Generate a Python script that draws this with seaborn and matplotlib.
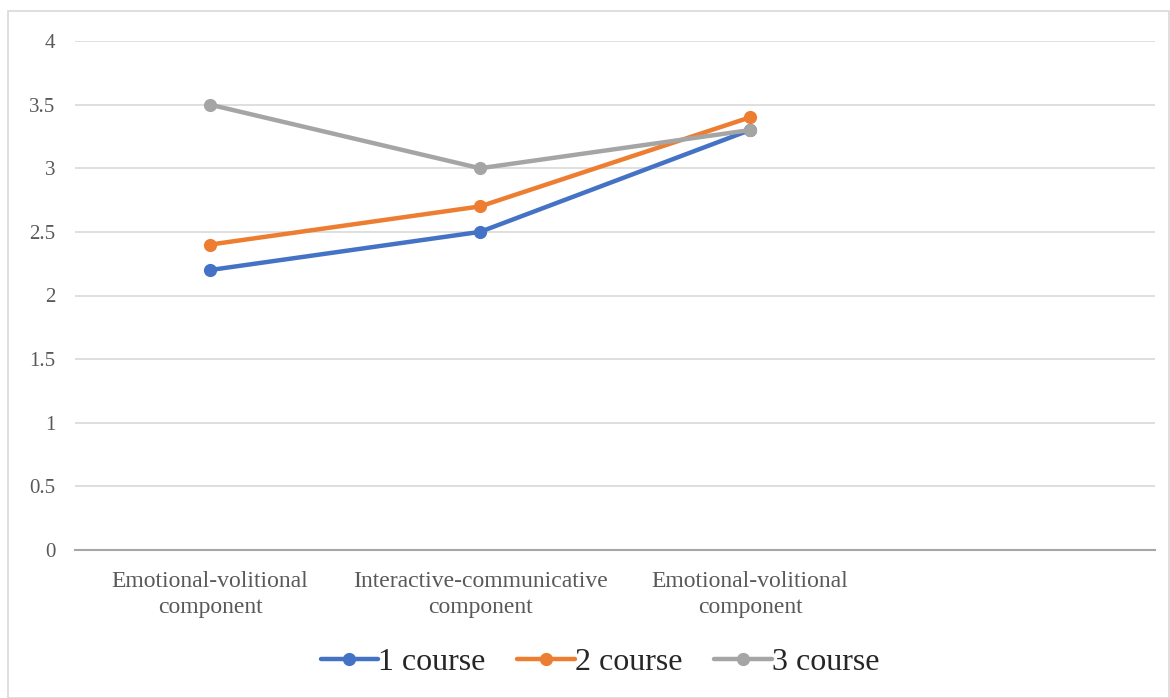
import matplotlib
matplotlib.use("Agg")
import matplotlib.pyplot as plt
from matplotlib.patches import Rectangle
import seaborn as sns
import pandas as pd

categories = ["Emotional-volitional\ncomponent",
              "Interactive-communicative\ncomponent",
              "Emotional-volitional\ncomponent",
              ""]
series_names = ["1 course", "2 course", "3 course"]
course1 = [2.2, 2.5, 3.3]
course2 = [2.4, 2.7, 3.4]
course3 = [3.5, 3.0, 3.3]
colors = ["#4472C4", "#ED7D31", "#A5A5A5"]
yticks = [0, 0.5, 1, 1.5, 2, 2.5, 3, 3.5, 4]

rows = []
for name, vals in zip(series_names, [course1, course2, course3]):
    for i, v in enumerate(vals):
        rows.append({"pos": i, "value": v, "series": name})
df = pd.DataFrame(rows)

sns.set_theme(style="white")
plt.rcParams["font.family"] = ["Liberation Serif", "DejaVu Serif"]

fig = plt.figure(figsize=(11.7, 6.98), dpi=100)
fig.patches.append(Rectangle((8 / 1170, 0), 1 - 8 / 1170 - 0.0005, 1 - 11 / 698,
                             transform=fig.transFigure, fill=False,
                             edgecolor="#D9D9D9", linewidth=1.2))
ax = fig.add_axes([75 / 1170, 1 - 550 / 698, 1080 / 1170, 509 / 698])

sns.lineplot(data=df, x="pos", y="value", hue="series", palette=colors,
             marker="o", markersize=9.5, markeredgewidth=0, linewidth=3.2,
             ax=ax, legend=False)

ax.set_xlim(-0.5, 3.5)
ax.set_ylim(0, 4)
ax.set_yticks(yticks)
ax.set_yticklabels([f"{t:g}" for t in yticks], fontsize=15, color="#595959")
ax.set_xticks(range(len(categories)))
ax.set_xticklabels(categories, fontsize=17, color="#595959", linespacing=1.35)
ax.tick_params(axis="y", length=0, pad=14)
ax.tick_params(axis="x", length=0, pad=15)
ax.set_xlabel("")
ax.set_ylabel("")
ax.grid(axis="y", color="#D9D9D9", linewidth=1.2)
ax.set_axisbelow(True)
for side in ["top", "right", "left"]:
    ax.spines[side].set_visible(False)
ax.spines["bottom"].set_color("#A6A6A6")
ax.spines["bottom"].set_linewidth(1.5)

handles = [plt.Line2D([0], [0], color=c, linewidth=3.2, marker="o", markersize=9.5,
                      markeredgewidth=0) for c in colors]
fig.legend(handles, series_names, loc="center", bbox_to_anchor=(600 / 1170, 1 - 662 / 698),
           ncol=3, frameon=False, fontsize=23, handlelength=1.8, handletextpad=0.0,
           columnspacing=1.0)

fig.savefig("out.png", dpi=100)
